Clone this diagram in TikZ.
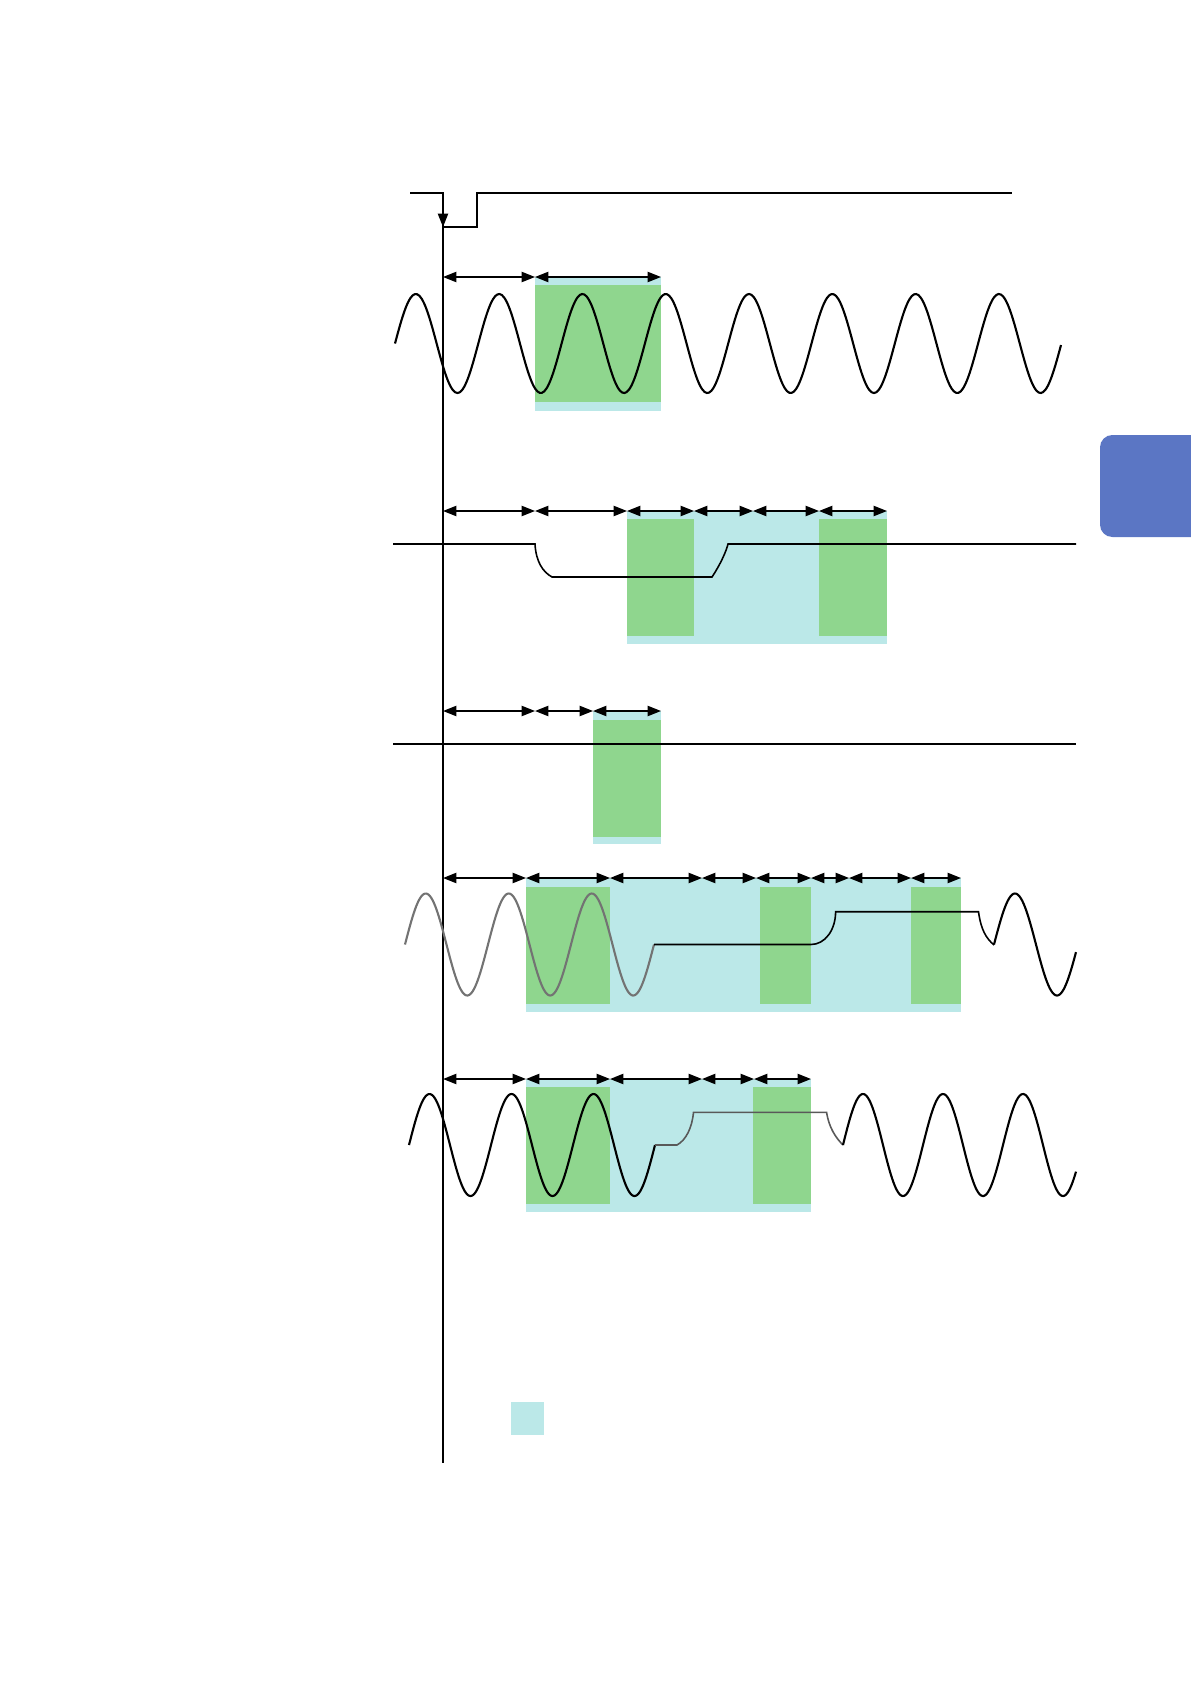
\documentclass[tikz,border=0pt]{standalone}
\usetikzlibrary{arrows.meta}
\definecolor{holdcyan}{RGB}{187,232,232}
\definecolor{measgreen}{RGB}{143,214,142}
\definecolor{tabblue}{RGB}{91,118,196}
\begin{document}
\begin{tikzpicture}[x=0.01cm,y=-0.01cm,
  sig/.style={line width=0.45pt},
  wave/.style={line width=0.6pt,smooth},
  dim/.style={line width=0.45pt,{Triangle[length=3.8pt,width=2.9pt]}-{Triangle[length=3.8pt,width=2.9pt]}}]
  \useasboundingbox (0,0) rectangle (1191,1684);

  % Onglet
  \begin{scope}
    \clip (0,0) rectangle (1191,1684);
    \fill[tabblue,rounded corners=3.5pt] (1100,435) rectangle (1210,537);
  \end{scope}

  % Declenchement
  \coordinate (trig) at (443,193);
  \coordinate (trigend) at (443,1463);
  \draw[sig] (410,193) -- (trig) -- (443,227) -- (477,227) -- (477,193) -- (1012,193);
  \draw[sig] (trig) -- (trigend);
  \draw[sig,-{Triangle[length=3.8pt,width=2.9pt]}] (443,205) -- (443,227);

  % Ligne 1 : sinus (periode 83.3)
  \fill[holdcyan] (535,277) rectangle (661,411);
  \fill[measgreen] (535,285) rectangle (661,402);
  \draw[wave,domain=395:1061,samples=300] plot (\x,{343.5-49.5*sin(4.3217*(\x-395))});
  \foreach \x [count=\i] in {443,535,661} \coordinate (a\i) at (\x,277);
  \foreach \i/\j in {1/2,2/3} \draw[dim] (a\i) -- (a\j);

  % Ligne 2 : creux
  \fill[holdcyan] (627,511) rectangle (887,644);
  \fill[measgreen] (627,519) rectangle (694,636);
  \fill[measgreen] (819,519) rectangle (887,636);
  \draw[sig] (393,544) -- (535,544) .. controls (536,562) and (543,572) .. (552,577)
    -- (712,577) .. controls (720,565) and (726,552) .. (728,544) -- (1076,544);
  \foreach \x [count=\i] in {443,535,627,694,753,819,887} \coordinate (b\i) at (\x,511);
  \foreach \i/\j in {1/2,2/3,3/4,4/5,5/6,6/7} \draw[dim] (b\i) -- (b\j);

  % Ligne 3 : continu
  \fill[holdcyan] (593,711) rectangle (661,844);
  \fill[measgreen] (593,720) rectangle (661,837);
  \draw[sig] (393,744) -- (1076,744);
  \foreach \x [count=\i] in {443,535,593,661} \coordinate (c\i) at (\x,711);
  \foreach \i/\j in {1/2,2/3,3/4} \draw[dim] (c\i) -- (c\j);

  % Ligne 4 : coupure
  \fill[holdcyan] (526,878) rectangle (961,1012);
  \fill[measgreen] (526,887) rectangle (610,1004);
  \fill[measgreen] (760,887) rectangle (811,1004);
  \fill[measgreen] (911,887) rectangle (961,1004);
  \draw[wave,black!55,domain=405:654,samples=200] plot (\x,{944.5-51*sin(4.3373*(\x-405))});
  \draw[sig] (654,944.5) -- (811,944.5) .. controls (825,944.5) and (835.6,930) .. (835.6,911.7)
    -- (978.5,911.7) .. controls (981,930) and (986,938) .. (994,945);
  \draw[wave,domain=994:1076,samples=80] plot (\x,{944.5-51*sin(4.2857*(\x-994))});
  \foreach \x [count=\i] in {443,526,610,702,756,811,849,911,961} \coordinate (d\i) at (\x,878);
  \foreach \i/\j in {1/2,2/3,3/4,4/5,5/6,6/7,7/8,8/9} \draw[dim] (d\i) -- (d\j);

  % Ligne 5 : coupure courte
  \fill[holdcyan] (526,1079) rectangle (811,1212);
  \fill[measgreen] (526,1087) rectangle (610,1204);
  \fill[measgreen] (753,1087) rectangle (811,1204);
  \draw[wave,domain=409:655,samples=200] plot (\x,{1145-51*sin(4.3902*(\x-409))});
  \draw[sig,black!65] (655,1145) -- (677,1145) .. controls (686,1140) and (692,1128) .. (693.5,1112.3)
    -- (826.6,1112.3) .. controls (829,1128) and (836,1138) .. (843,1145);
  \draw[wave,domain=843:1076,samples=200] plot (\x,{1145-51*sin(4.5*(\x-843))});
  \foreach \x [count=\i] in {443,526,610,702,754,811} \coordinate (e\i) at (\x,1079);
  \foreach \i/\j in {1/2,2/3,3/4,4/5,5/6} \draw[dim] (e\i) -- (e\j);

  % Legende
  \fill[holdcyan] (511,1402) rectangle (544,1435);
\end{tikzpicture}
\end{document}
